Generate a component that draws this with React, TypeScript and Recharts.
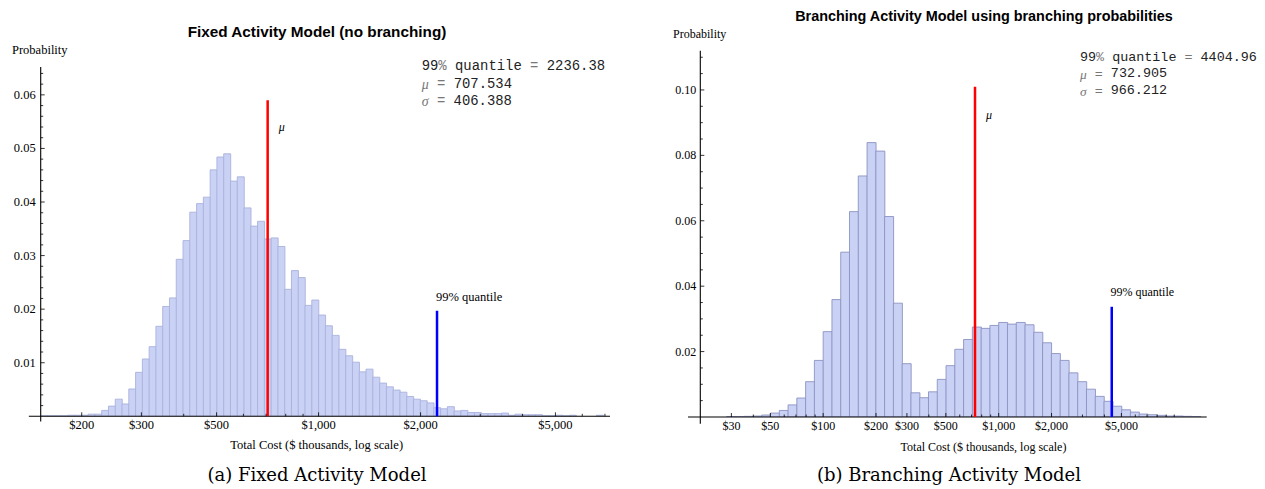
import React from "react";
import { BarChart, Bar, XAxis, YAxis, ReferenceLine } from "recharts";

// (a) fixed activity model: probability per bin, bins 0.02 wide in log10($ thousands), first bin starts at 2.18
const fixedBinStart = 2.18;
const fixedBinWidth = 0.02;
const fixedProb = [
  0.0001, 0.0001, 0.0001, 0.0001, 0.0002, 0.0002, 0.0002, 0.0004, 0.0004, 0.0011,
  0.0019, 0.0032, 0.0023, 0.0051, 0.0082, 0.0107, 0.013, 0.0168, 0.0205, 0.0221,
  0.0293, 0.0328, 0.0381, 0.0397, 0.0409, 0.046, 0.0484, 0.049, 0.0439, 0.0447,
  0.0389, 0.0355, 0.0364, 0.0331, 0.0333, 0.0317, 0.0237, 0.0272, 0.0259, 0.0207,
  0.0217, 0.0189, 0.0169, 0.0151, 0.0125, 0.0113, 0.0101, 0.0083, 0.0088, 0.0073,
  0.0062, 0.0055, 0.0049, 0.0045, 0.0037, 0.0032, 0.0029, 0.0025, 0.0016, 0.0014,
  0.0018, 0.001, 0.0011, 0.0007, 0.0007, 0.0005, 0.0005, 0.0005, 0.0006, 0.0002,
  0.0004, 0.0003, 0.0003, 0.0003, 0.0001, 0.0001, 0.0002, 0.0001, 0.0002, 0,
  0, 0, 0.0002,
];
const fixedMean = 707.534;
const fixedSigma = 406.388;
const fixedQuantile = 2236.38;
const fixedMeanLineTop = 0.059;
const fixedQuantileLineTop = 0.0197;

// (b) branching activity model, bins 0.05 wide in log10, first bin starts at 1.45
const branchBinStart = 1.45;
const branchBinWidth = 0.05;
const branchProb = [
  0.0001, 0.0001, 0.0002, 0.0003, 0.0006, 0.0012, 0.002, 0.0037, 0.0058, 0.0108,
  0.0173, 0.0261, 0.0359, 0.0504, 0.0628, 0.0737, 0.0839, 0.0813, 0.0613, 0.0348,
  0.0163, 0.0074, 0.0059, 0.0077, 0.0115, 0.0157, 0.0207, 0.0237, 0.0275, 0.0271,
  0.028, 0.0289, 0.0284, 0.0289, 0.0282, 0.0259, 0.0227, 0.0194, 0.0173, 0.0135,
  0.0108, 0.0085, 0.0063, 0.0048, 0.0033, 0.0022, 0.0015, 0.0009, 0.0007, 0.0005,
  0.0003, 0.0003, 0.0002, 0.0001,
];
const branchMean = 732.905;
const branchSigma = 966.212;
const branchQuantile = 4404.96;
const branchMeanLineTop = 0.101;
const branchQuantileLineTop = 0.0337;

// tick values ($ thousands)
const fixedXMajor = [200, 300, 500, 1000, 2000, 5000];
const fixedXMinor = [400, 600, 700, 800, 900, 3000, 4000, 6000, 7000];
const branchXMajor = [30, 50, 100, 200, 300, 500, 1000, 2000, 5000];
const branchXMinor = [40, 60, 70, 80, 90, 400, 600, 700, 800, 900, 3000, 4000, 6000, 7000, 8000, 9000, 10000];
const fixedYMajor = [0.01, 0.02, 0.03, 0.04, 0.05, 0.06];
const branchYMajor = [0.02, 0.04, 0.06, 0.08, 0.1];

const BAR_FILL = "#c9d1f5";
const SERIF = "'Liberation Serif', 'Times New Roman', serif";
const SANS = "'Liberation Sans', Arial, sans-serif";
const MONO = "'Liberation Mono', 'Courier New', monospace";

const money = (v: number) => "$" + v.toLocaleString("en-US");

function minorSteps(step: number, max: number, major: number[]) {
  const out: number[] = [];
  for (let i = 1; i * step <= max + 1e-9; i++) {
    const v = +(i * step).toFixed(4);
    if (!major.some((m) => Math.abs(m - v) < 1e-9)) out.push(v);
  }
  return out;
}

function xTick(major: number[], fontSize: number) {
  return (props: any) => {
    const { x, y, payload } = props;
    const m = major.find((t) => Math.abs(Math.log10(t) - payload.value) < 1e-6);
    return (
      <g>
        <line x1={x} x2={x} y1={y} y2={y - (m !== undefined ? 4 : 2.5)} stroke="#000" strokeWidth={0.8} />
        {m !== undefined && (
          <text x={x} y={y + 9} textAnchor="middle" dominantBaseline="central" fontSize={fontSize} fontFamily={SERIF} fill="#000">
            {money(m)}
          </text>
        )}
      </g>
    );
  };
}

function yTick(major: number[], fontSize: number, gap: number) {
  return (props: any) => {
    const { x, y, payload } = props;
    const isMajor = major.some((t) => Math.abs(t - payload.value) < 1e-9);
    return (
      <g>
        <line x1={x} x2={x + (isMajor ? 4 : 2.5)} y1={y} y2={y} stroke="#000" strokeWidth={0.8} />
        {isMajor && (
          <text x={x - gap} y={y} textAnchor="end" dominantBaseline="central" fontSize={fontSize} fontFamily={SERIF} fill="#000">
            {payload.value.toFixed(2)}
          </text>
        )}
      </g>
    );
  };
}

const muLabel = (dx: number, dy: number) => (p: any) => {
  const vb = p.viewBox || {};
  return (
    <text x={vb.x + dx} y={vb.y + dy} dominantBaseline="central" fontSize={12} fontStyle="italic" fontFamily={SERIF} fill="#000">
      μ
    </text>
  );
};

const quantLabel = (dx: number, dy: number, fontSize: number) => (p: any) => {
  const vb = p.viewBox || {};
  return (
    <text x={vb.x + dx} y={vb.y + dy} dominantBaseline="central" fontSize={fontSize} fontFamily={SERIF} fill="#000">
      99% quantile
    </text>
  );
};

type HistProps = {
  data: { x: number; p: number }[];
  width: number;
  margin: { top: number; right: number; bottom: number; left: number };
  yAxisWidth: number;
  xDomain: [number, number];
  axisStart: number;
  yMax: number;
  yBelow: number;
  xMajor: number[];
  xMinor: number[];
  yMajor: number[];
  yMinor: number[];
  fontSize: number;
  yGap: number;
  stroke: string;
  mean: number;
  meanTop: number;
  quantile: number;
  quantTop: number;
  muPos: [number, number];
  qPos: [number, number];
};

function Histogram(h: HistProps) {
  const [lo, hi] = h.xDomain;
  return (
    <BarChart width={h.width} height={489} data={h.data} margin={h.margin} barCategoryGap={0} barGap={0}>
      <XAxis
        dataKey="x"
        type="number"
        domain={[lo, hi]}
        ticks={[...h.xMajor, ...h.xMinor].map(Math.log10)}
        interval={0}
        tick={xTick(h.xMajor, h.fontSize)}
        tickSize={0}
        tickMargin={0}
        tickLine={false}
        axisLine={false}
        height={30}
        allowDataOverflow
      />
      <YAxis
        type="number"
        domain={[0, h.yMax]}
        ticks={[...h.yMajor, ...h.yMinor]}
        interval={0}
        tick={yTick(h.yMajor, h.fontSize, h.yGap)}
        tickSize={0}
        tickMargin={0}
        tickLine={false}
        axisLine={false}
        width={h.yAxisWidth}
        allowDataOverflow
      />
      <Bar dataKey="p" fill={BAR_FILL} stroke={h.stroke} strokeWidth={0.9} isAnimationActive={false} />
      <ReferenceLine
        segment={[{ x: h.axisStart, y: 0 }, { x: hi, y: 0 }]}
        stroke="#000"
        strokeWidth={1.1}
        ifOverflow="visible"
      />
      <ReferenceLine
        segment={[{ x: lo, y: -h.yBelow }, { x: lo, y: h.yMax }]}
        stroke="#000"
        strokeWidth={1.1}
        ifOverflow="visible"
      />
      <ReferenceLine
        segment={[{ x: Math.log10(h.mean), y: 0 }, { x: Math.log10(h.mean), y: h.meanTop }]}
        stroke="#ff0000"
        strokeWidth={2.5}
        ifOverflow="visible"
        label={muLabel(h.muPos[0], h.muPos[1])}
      />
      <ReferenceLine
        segment={[{ x: Math.log10(h.quantile), y: 0 }, { x: Math.log10(h.quantile), y: h.quantTop }]}
        stroke="#0000ff"
        strokeWidth={2.5}
        ifOverflow="visible"
        label={quantLabel(h.qPos[0], h.qPos[1], h.fontSize)}
      />
    </BarChart>
  );
}

function Stats({ x, y, step, fontSize, q, mu, sigma }: { x: number; y: number; step: number; fontSize: number; q: number; mu: number; sigma: number }) {
  const grey = "#777";
  return (
    <g fontFamily={MONO} fontSize={fontSize} fill="#222">
      <text x={x} y={y} dominantBaseline="central">
        99<tspan fill={grey}>%</tspan> quantile <tspan fill={grey}>=</tspan> {q}
      </text>
      <text x={x} y={y + step} dominantBaseline="central">
        <tspan fill={grey} fontStyle="italic" fontFamily={SERIF}>μ</tspan>
        <tspan fill={grey}>{"  = "}</tspan>
        {mu}
      </text>
      <text x={x} y={y + 2 * step} dominantBaseline="central">
        <tspan fill={grey} fontStyle="italic" fontFamily={SERIF}>σ</tspan>
        <tspan fill={grey}>{"  = "}</tspan>
        {sigma}
      </text>
    </g>
  );
}

export default function App() {
  const fixedData = fixedProb.map((p, i) => ({ x: fixedBinStart + (i + 0.5) * fixedBinWidth, p }));
  const branchData = branchProb.map((p, i) => ({ x: branchBinStart + (i + 0.5) * branchBinWidth, p }));

  return (
    <div style={{ position: "absolute", left: 0, top: 0, width: 1265, height: 489, background: "#fff", overflow: "hidden" }}>
      <div style={{ position: "absolute", left: 0, top: 0 }}>
        <Histogram
          data={fixedData}
          width={630}
          margin={{ top: 67, right: 20, bottom: 42.7, left: 0 }}
          yAxisWidth={40.7}
          xDomain={[2.18, 3.86]}
          axisStart={2.145}
          yMax={0.0652}
          yBelow={0.00095}
          xMajor={fixedXMajor}
          xMinor={fixedXMinor}
          yMajor={fixedYMajor}
          yMinor={minorSteps(0.002, 0.064, fixedYMajor)}
          fontSize={12.5}
          yGap={5}
          stroke="#aab2dc"
          mean={fixedMean}
          meanTop={fixedMeanLineTop}
          quantile={fixedQuantile}
          quantTop={fixedQuantileLineTop}
          muPos={[11, 27]}
          qPos={[-1, -14]}
        />
      </div>
      <div style={{ position: "absolute", left: 630, top: 0 }}>
        <Histogram
          data={branchData}
          width={635}
          margin={{ top: 50.7, right: 58.3, bottom: 42, left: 0 }}
          yAxisWidth={70.3}
          xDomain={[1.3, 4.185]}
          axisStart={1.23}
          yMax={0.112}
          yBelow={0.0021}
          xMajor={branchXMajor}
          xMinor={branchXMinor}
          yMajor={branchYMajor}
          yMinor={minorSteps(0.005, 0.11, branchYMajor)}
          fontSize={12}
          yGap={4}
          stroke="#8c93c2"
          mean={branchMean}
          meanTop={branchMeanLineTop}
          quantile={branchQuantile}
          quantTop={branchQuantileLineTop}
          muPos={[11, 28]}
          qPos={[-1.3, -15]}
        />
      </div>
      <svg width={1265} height={489} style={{ position: "absolute", left: 0, top: 0, pointerEvents: "none" }}>
        <text x={317} y={31} textAnchor="middle" dominantBaseline="central" fontFamily={SANS} fontWeight="bold" fontSize={15.3}>
          Fixed Activity Model (no branching)
        </text>
        <text x={984} y={16} textAnchor="middle" dominantBaseline="central" fontFamily={SANS} fontWeight="bold" fontSize={14.4}>
          Branching Activity Model using branching probabilities
        </text>
        <text x={12} y={50} dominantBaseline="central" fontFamily={SERIF} fontSize={12.5}>Probability</text>
        <text x={673} y={34} dominantBaseline="central" fontFamily={SERIF} fontSize={12}>Probability</text>
        <text x={316.7} y={445} textAnchor="middle" dominantBaseline="central" fontFamily={SERIF} fontSize={12.5}>
          Total Cost ($ thousands, log scale)
        </text>
        <text x={983.5} y={446.7} textAnchor="middle" dominantBaseline="central" fontFamily={SERIF} fontSize={12}>
          Total Cost ($ thousands, log scale)
        </text>
        <Stats x={421.7} y={66} step={17.5} fontSize={13.9} q={fixedQuantile} mu={fixedMean} sigma={fixedSigma} />
        <Stats x={1080} y={57} step={16.8} fontSize={13.4} q={branchQuantile} mu={branchMean} sigma={branchSigma} />
        <text x={317} y={474} textAnchor="middle" dominantBaseline="central" fontFamily="'DejaVu Serif', serif" fontSize={18}>
          (a) Fixed Activity Model
        </text>
        <text x={949} y={474} textAnchor="middle" dominantBaseline="central" fontFamily="'DejaVu Serif', serif" fontSize={18}>
          (b) Branching Activity Model
        </text>
      </svg>
    </div>
  );
}
